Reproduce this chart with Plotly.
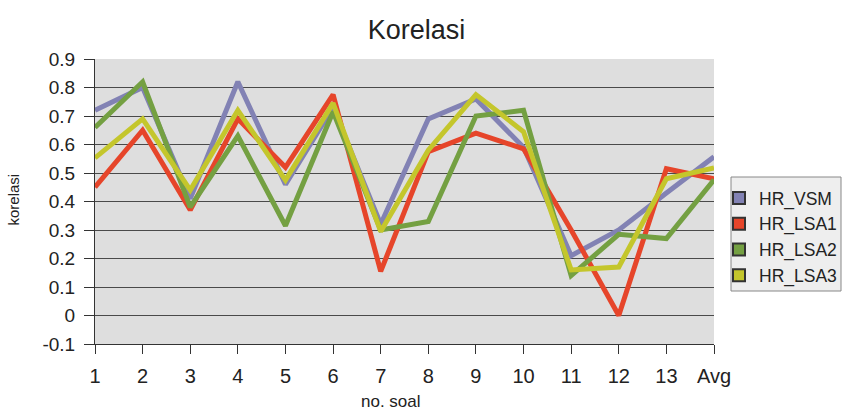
import plotly.graph_objects as go

# Question labels along the x axis
categories = ["1", "2", "3", "4", "5", "6", "7", "8", "9", "10", "11", "12", "13", "Avg"]

# Correlation per question for each method
hr_vsm = [0.72, 0.80, 0.41, 0.82, 0.46, 0.73, 0.32, 0.69, 0.76, 0.59, 0.21, 0.30, 0.43, 0.557]
hr_lsa1 = [0.45, 0.65, 0.37, 0.69, 0.52, 0.775, 0.155, 0.575, 0.64, 0.585, 0.30, 0.0, 0.515, 0.48]
hr_lsa2 = [0.66, 0.82, 0.38, 0.63, 0.315, 0.715, 0.30, 0.33, 0.70, 0.72, 0.14, 0.285, 0.27, 0.476]
hr_lsa3 = [0.553, 0.69, 0.44, 0.72, 0.475, 0.745, 0.295, 0.58, 0.775, 0.645, 0.16, 0.17, 0.48, 0.518]

y_ticks = [-0.1, 0, 0.1, 0.2, 0.3, 0.4, 0.5, 0.6, 0.7, 0.8, 0.9]

series = [
    ("HR_VSM", hr_vsm, "#8282b4"),
    ("HR_LSA1", hr_lsa1, "#e6452a"),
    ("HR_LSA2", hr_lsa2, "#74a042"),
    ("HR_LSA3", hr_lsa3, "#c4c62c"),
]

W, H = 842, 413
L, R, T, B = 95, 714, 59, 344          # plot area edges in pixels
pw, ph = R - L, B - T


def px(x):
    return (x - L) / pw


def py(y):
    return (B - y) / ph


positions = list(range(len(categories)))

fig = go.Figure()
for name, values, color in series:
    fig.add_trace(go.Scatter(
        x=positions, y=values, mode="lines", name=name,
        line=dict(color=color, width=5), showlegend=False,
    ))
# Square legend swatches
for name, values, color in series:
    fig.add_trace(go.Scatter(
        x=[None], y=[None], mode="markers", name=name,
        marker=dict(symbol="square", size=9, color=color,
                    line=dict(color="#333333", width=1)),
    ))

font_family = "Liberation Sans, Arial, sans-serif"

fig.update_layout(
    width=W, height=H,
    margin=dict(l=L, r=W - R, t=T, b=H - B, autoexpand=False),
    paper_bgcolor="white",
    plot_bgcolor="#dedede",
    font=dict(family=font_family, color="#222222"),
    title=dict(text="Korelasi", x=(368 + 465) / 2 / W, xanchor="center",
               y=1 - 30 / H, yanchor="middle", yref="container",
               font=dict(size=27, color="#222222")),
    showlegend=True,
    legend=dict(x=px(719), xanchor="left", y=py(180), yanchor="top",
                bgcolor="rgba(0,0,0,0)", borderwidth=0,
                font=dict(size=17.5, color="#222222"),
                itemsizing="constant"),
    shapes=[dict(type="rect", xref="paper", yref="paper",
                 x0=px(731), x1=px(841), y0=py(291), y1=py(177),
                 fillcolor="#eeeeee", line=dict(color="#888888", width=1),
                 layer="below")],
    annotations=[
        dict(text="korelasi", xref="paper", yref="paper",
             x=px(12.5), y=py(200), xanchor="center", yanchor="middle",
             textangle=-90, showarrow=False,
             font=dict(size=15, color="#222222")),
        dict(text="no. soal", xref="paper", yref="paper",
             x=px(391), y=py(401), xanchor="center", yanchor="middle",
             showarrow=False, font=dict(size=17, color="#222222")),
    ],
)

fig.update_xaxes(
    tickmode="array", tickvals=positions, ticktext=categories,
    range=[0, len(categories) - 1],
    showgrid=False, zeroline=False,
    showline=True, linecolor="#333333", linewidth=1,
    ticks="outside", ticklen=9, tickcolor="#333333",
    tickfont=dict(size=20), ticklabelstandoff=5,
)
fig.update_yaxes(
    range=[-0.1, 0.9], tickmode="array",
    tickvals=y_ticks, ticktext=[f"{v:g}" for v in y_ticks],
    showgrid=True, gridcolor="#4a4a4a", gridwidth=1,
    zeroline=True, zerolinecolor="#4a4a4a", zerolinewidth=1,
    showline=True, linecolor="#333333", linewidth=1,
    ticks="outside", ticklen=10, tickcolor="#333333",
    tickfont=dict(size=19), ticklabelstandoff=5,
)

fig.write_html("out.html")
